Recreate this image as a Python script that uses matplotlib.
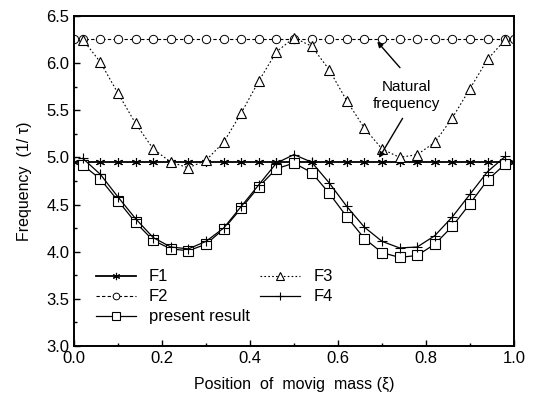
import numpy as np
import matplotlib
matplotlib.use("Agg")
import matplotlib.pyplot as plt
from matplotlib.ticker import MultipleLocator, FormatStrFormatter

plt.rcParams['font.family'] = ['Liberation Sans', 'DejaVu Sans']

# positions of the moving mass
xi = [0.02, 0.06, 0.10, 0.14, 0.18, 0.22, 0.26, 0.30, 0.34, 0.38, 0.42, 0.46, 0.50,
      0.54, 0.58, 0.62, 0.66, 0.70, 0.74, 0.78, 0.82, 0.86, 0.90, 0.94, 0.98]
xi_full = [0.0] + xi + [1.0]

# frequencies (1/tau)
f1 = [4.95] * len(xi_full)
f2 = [6.26] * len(xi_full)
f3 = [6.25, 6.01, 5.68, 5.36, 5.09, 4.95, 4.89, 4.97, 5.16, 5.47, 5.81, 6.12, 6.27,
      6.18, 5.93, 5.60, 5.31, 5.09, 5.00, 5.03, 5.16, 5.42, 5.73, 6.04, 6.25]
f4 = [4.99, 4.82, 4.58, 4.35, 4.15, 4.05, 4.03, 4.11, 4.25, 4.48, 4.71, 4.94, 5.03,
      4.95, 4.73, 4.48, 4.26, 4.11, 4.04, 4.05, 4.17, 4.37, 4.61, 4.85, 5.01]
present = [4.92, 4.77, 4.54, 4.31, 4.12, 4.03, 4.01, 4.08, 4.24, 4.46, 4.69, 4.88, 4.94,
           4.84, 4.62, 4.37, 4.14, 3.99, 3.94, 3.96, 4.08, 4.27, 4.51, 4.76, 4.93]

fig = plt.figure(figsize=(5.35, 4.01), dpi=100)
ax = fig.add_axes([74 / 535, 1 - 346 / 401, 440 / 535, 330 / 401])

ax.plot(xi_full, f1, color='black', lw=1.3, marker=(6, 2, 0), ms=6.5, mew=0.8, label='F1')
ax.plot(xi_full, f2, color='black', lw=0.8, ls=(0, (3, 2)), marker='o', ms=6,
        mfc='white', mew=0.7, label='F2')
ax.plot(xi, present, color='black', lw=0.9, marker='s', ms=6.5, mfc='white', mew=0.8,
        label='present result')
ax.plot(xi, f3, color='black', lw=0.8, ls=(0, (1.5, 2)), marker='^', ms=7.5, mfc='white',
        mew=0.8, label='F3')
ax.plot(xi, f4, color='black', lw=0.9, marker='+', ms=7, mew=0.8, label='F4')

ax.set_xlim(0, 1)
ax.set_ylim(3.0, 6.5)
ax.xaxis.set_major_locator(MultipleLocator(0.2))
ax.xaxis.set_minor_locator(MultipleLocator(0.1))
ax.yaxis.set_major_locator(MultipleLocator(0.5))
ax.yaxis.set_minor_locator(MultipleLocator(0.25))
ax.tick_params(which='both', direction='in', labelsize=12, width=1.0)
ax.tick_params(which='major', length=4)
ax.tick_params(which='minor', length=2)
ax.xaxis.set_major_formatter(FormatStrFormatter('%.1f'))
ax.yaxis.set_major_formatter(FormatStrFormatter('%.1f'))
for s in ax.spines.values():
    s.set_linewidth(1.4)

ax.set_xlabel('Position  of  movig  mass (ξ)', fontsize=11.5, labelpad=8)
ax.set_ylabel('Frequency  (1/ τ)', fontsize=11.5, labelpad=10)

ax.text(0.755, 5.66, 'Natural\nfrequency', fontsize=11, ha='center', va='center',
        linespacing=1.3)
ax.annotate('', xy=(0.685, 6.25), xytext=(0.745, 5.93),
            arrowprops=dict(arrowstyle='-|>', color='black', lw=1.0, mutation_scale=8))
ax.annotate('', xy=(0.69, 4.97), xytext=(0.75, 5.44),
            arrowprops=dict(arrowstyle='-|>', color='black', lw=1.0, mutation_scale=8))

ax.legend(ncol=2, loc='lower left', bbox_to_anchor=(0.015, 0.02), frameon=False,
          fontsize=12, handlelength=2.4, columnspacing=0.6, labelspacing=0.3,
          handletextpad=0.8, markerscale=0.8)

fig.savefig('out.png', dpi=100)
